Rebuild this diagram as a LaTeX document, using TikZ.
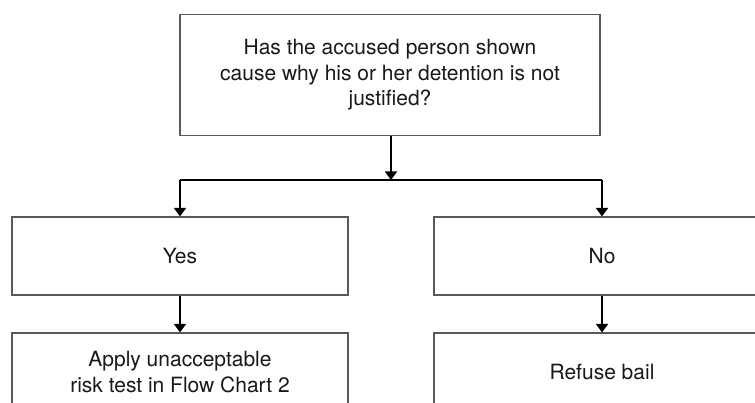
\documentclass[tikz,border=0pt]{standalone}
\usepackage{fontspec}
\setmainfont{TeX Gyre Heros}
\usetikzlibrary{arrows.meta}
\begin{document}
\begin{tikzpicture}[x=1pt,y=-1pt,
  box/.style={draw=black!65,line width=1.1pt,fill=white,inner sep=0pt,align=center,font=\fontsize{21}{25.5}\selectfont,text=black!90},
  arr/.style={draw=black,line width=1.6pt,-{Triangle[width=12pt,length=8.5pt]}},
  ln/.style={draw=black,line width=1.6pt}]
\useasboundingbox (0,0) rectangle (755,403);
\clip (0,0) rectangle (755,403);
\node[box,minimum width=420pt,minimum height=121pt] (q) at (390,75) {Has the accused person shown\\cause why his or her detention is not\\justified?};
\node[box,minimum width=336pt,minimum height=78pt] (yes) at (180,256) {Yes};
\node[box,minimum width=336pt,minimum height=78pt] (no) at (602,256) {No};
\node[box,minimum width=336pt,minimum height=78pt] (apply) at (180,372) {Apply unacceptable\\risk test in Flow Chart 2};
\node[box,minimum width=336pt,minimum height=78pt] (refuse) at (602,372) {Refuse bail};
\coordinate (j) at (391,180);
\coordinate (jl) at (180,180);
\coordinate (jr) at (602,180);
\draw[arr] (q.south -| j) -- (j);
\draw[ln] (jl) -- (jr);
\draw[arr] (jl) -- (yes.north);
\draw[arr] (jr) -- (no.north);
\draw[arr] (yes.south) -- (apply.north);
\draw[arr] (no.south) -- (refuse.north);
\end{tikzpicture}
\end{document}
